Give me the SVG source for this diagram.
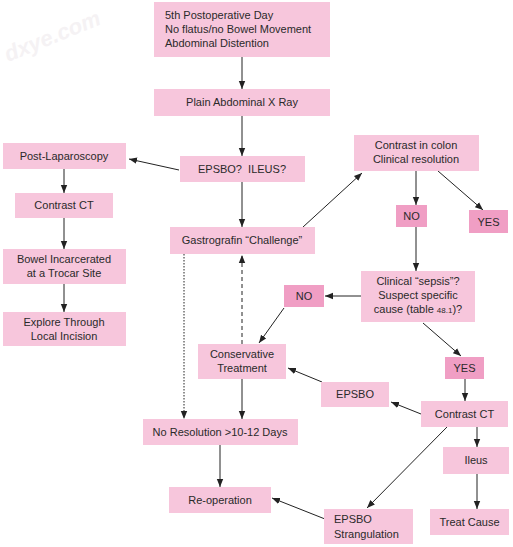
<svg xmlns="http://www.w3.org/2000/svg" width="513" height="547" viewBox="0 0 513 547">
<style>
.n{fill:#f7c6dc}
.d{fill:#f09ec4}
text{font-family:"Liberation Sans",Arial,sans-serif;font-size:11px;fill:#2a2a2a}
.c{text-anchor:middle}
.l{stroke:#222;stroke-width:1;fill:none}
.wm{font-family:"Liberation Sans",Arial,sans-serif;font-size:22px;font-weight:bold;font-style:italic;fill:#f5f2f4}
</style>
<defs>
<marker id="a" viewBox="0 0 10 10" refX="10" refY="5" markerWidth="8" markerHeight="8" markerUnits="userSpaceOnUse" orient="auto">
<path d="M0,1 L10,5 L0,9 Z" fill="#222"/>
</marker>
</defs>
<rect width="513" height="547" fill="#fff"/>
<text class="wm" transform="translate(8,62) rotate(-22)">dxye.com</text>
<g id="connectors">
<line class="l" x1="242" y1="57" x2="242" y2="89" marker-end="url(#a)"/>
<line class="l" x1="242" y1="116" x2="242" y2="156" marker-end="url(#a)"/>
<line class="l" x1="242" y1="182" x2="242" y2="227" marker-end="url(#a)"/>
<line class="l" x1="179" y1="170" x2="129" y2="159" marker-end="url(#a)"/>
<line class="l" x1="64" y1="169" x2="64" y2="193" marker-end="url(#a)"/>
<line class="l" x1="64" y1="218" x2="64" y2="249" marker-end="url(#a)"/>
<line class="l" x1="64" y1="284" x2="64" y2="312" marker-end="url(#a)"/>
<line class="l" x1="303" y1="227" x2="362" y2="173" marker-end="url(#a)"/>
<line class="l" x1="416" y1="171" x2="416" y2="205" marker-end="url(#a)"/>
<line class="l" x1="438" y1="171" x2="483" y2="210" marker-end="url(#a)"/>
<line class="l" x1="416" y1="227" x2="416" y2="271" marker-end="url(#a)"/>
<line class="l" x1="361" y1="296" x2="325" y2="296" marker-end="url(#a)"/>
<line class="l" x1="284" y1="308" x2="259" y2="343" marker-end="url(#a)"/>
<line class="l" x1="423" y1="323" x2="461" y2="356" marker-end="url(#a)"/>
<line class="l" x1="465" y1="379" x2="465" y2="401" marker-end="url(#a)"/>
<line class="l" x1="421" y1="414" x2="391" y2="402" marker-end="url(#a)"/>
<line class="l" x1="322" y1="382" x2="288" y2="368" marker-end="url(#a)"/>
<line class="l" x1="477" y1="427" x2="477" y2="447" marker-end="url(#a)"/>
<line class="l" x1="477" y1="474" x2="477" y2="509" marker-end="url(#a)"/>
<line class="l" x1="447" y1="427" x2="367" y2="508" marker-end="url(#a)"/>
<line class="l" x1="325" y1="519" x2="272" y2="498" marker-end="url(#a)"/>
<line class="l" x1="184" y1="254" x2="184" y2="419" stroke-dasharray="1.5,1.5" marker-end="url(#a)"/>
<line class="l" x1="242" y1="344" x2="242" y2="255" stroke-dasharray="4,3" marker-end="url(#a)"/>
<line class="l" x1="242" y1="379" x2="242" y2="419" marker-end="url(#a)"/>
<line class="l" x1="220" y1="445" x2="220" y2="487" marker-end="url(#a)"/>
</g>
<g id="n1"><rect class="n" x="154" y="2" width="176" height="55"/><text x="165" y="19">5th Postoperative Day</text><text x="165" y="33">No flatus/no Bowel Movement</text><text x="165" y="47">Abdominal Distention</text></g>
<g id="n2"><rect class="n" x="154" y="89" width="176" height="27"/><text class="c" x="242" y="106">Plain Abdominal X Ray</text></g>
<g id="n3"><rect class="n" x="180" y="156" width="125" height="26"/><text class="c" x="242" y="173" xml:space="preserve">EPSBO?  ILEUS?</text></g>
<g id="n4"><rect class="n" x="3" y="143" width="123" height="26"/><text class="c" x="64" y="160">Post-Laparoscopy</text></g>
<g id="n5"><rect class="n" x="15" y="193" width="98" height="25"/><text class="c" x="64" y="209">Contrast CT</text></g>
<g id="n6"><rect class="n" x="3" y="249" width="123" height="35"/><text class="c" x="64" y="263">Bowel Incarcerated</text><text class="c" x="64" y="277">at a Trocar Site</text></g>
<g id="n7"><rect class="n" x="3" y="312" width="123" height="34"/><text class="c" x="64" y="326">Explore Through</text><text class="c" x="64" y="340">Local Incision</text></g>
<g id="n8"><rect class="n" x="170" y="227" width="145" height="27"/><text class="c" x="242" y="244">Gastrografin “Challenge”</text></g>
<g id="n9"><rect class="n" x="354" y="135" width="125" height="36"/><text class="c" x="416" y="149">Contrast in colon</text><text class="c" x="416" y="163">Clinical resolution</text></g>
<g id="n10"><rect class="d" x="396" y="205" width="31" height="22"/><text class="c" x="411.5" y="220">NO</text></g>
<g id="n11"><rect class="d" x="469" y="210" width="39" height="23"/><text class="c" x="488.5" y="226">YES</text></g>
<g id="n12"><rect class="n" x="361" y="271" width="114" height="51"/><text class="c" x="418" y="285">Clinical “sepsis”?</text><text class="c" x="418" y="299">Suspect specific</text><text class="c" x="418" y="313">cause (table <tspan font-size="8">48.1</tspan>)?</text></g>
<g id="n13"><rect class="d" x="284" y="285" width="40" height="22"/><text class="c" x="304" y="300">NO</text></g>
<g id="n14"><rect class="n" x="198" y="344" width="88" height="35"/><text class="c" x="242" y="358">Conservative</text><text class="c" x="242" y="372">Treatment</text></g>
<g id="n15"><rect class="d" x="445" y="357" width="39" height="22"/><text class="c" x="464.5" y="372">YES</text></g>
<g id="n16"><rect class="n" x="321" y="382" width="68" height="25"/><text class="c" x="355" y="398">EPSBO</text></g>
<g id="n17"><rect class="n" x="421" y="401" width="87" height="26"/><text class="c" x="464.5" y="418">Contrast CT</text></g>
<g id="n18"><rect class="n" x="143" y="419" width="155" height="26"/><text class="c" x="220" y="436">No Resolution &gt;10-12 Days</text></g>
<g id="n19"><rect class="n" x="443" y="447" width="66" height="27"/><text class="c" x="476" y="464">Ileus</text></g>
<g id="n20"><rect class="n" x="169" y="487" width="102" height="26"/><text class="c" x="220" y="504">Re-operation</text></g>
<g id="n21"><rect class="n" x="324" y="509" width="89" height="35"/><text x="334" y="523">EPSBO</text><text x="334" y="538">Strangulation</text></g>
<g id="n22"><rect class="n" x="430" y="509" width="79" height="26"/><text class="c" x="469.5" y="526">Treat Cause</text></g>
</svg>
